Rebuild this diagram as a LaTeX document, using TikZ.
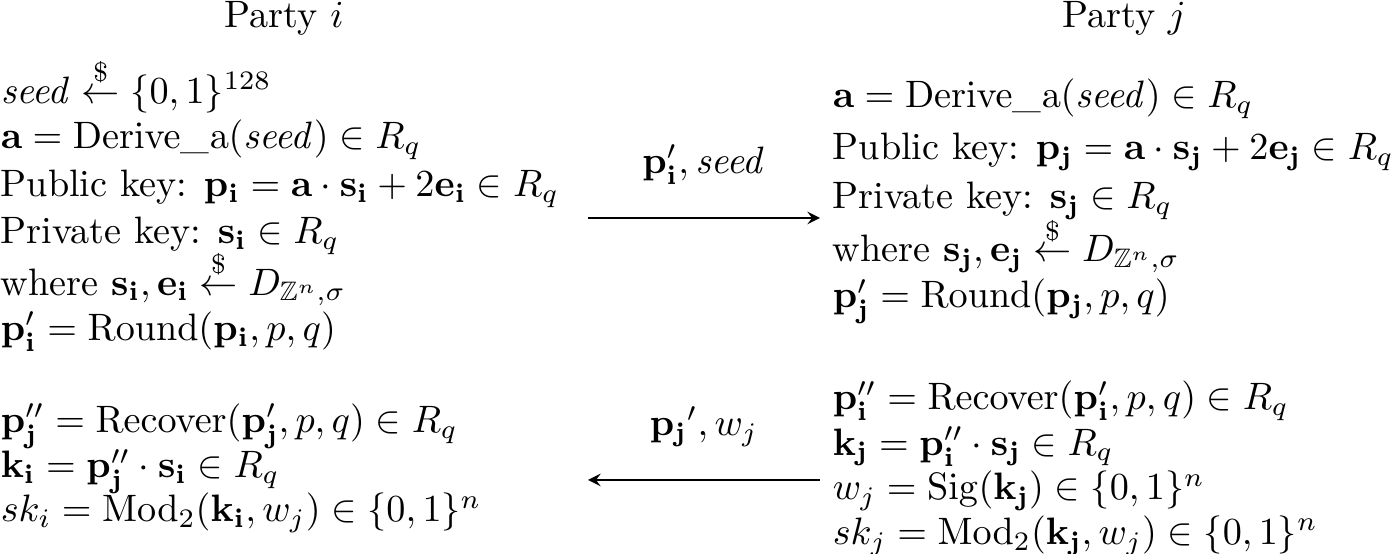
\documentclass[tikz,border=0pt]{standalone}
\usepackage{amsmath,amssymb}
\begin{document}
\begin{tikzpicture}[x=1pt,y=1pt,ln/.style={anchor=base west,inner sep=0pt,scale=0.955,transform shape},lbl/.style={anchor=base,inner sep=0pt,scale=0.955,transform shape}]
\useasboundingbox (0,0) rectangle (348,-138.5);
\node[lbl] (pi) at (71,-6.8) {Party $i$};
\node[lbl] (pj) at (281,-6.8) {Party $j$};
% left top
\node[ln] (l1) at (0,-25.8) {$\mathit{seed}\stackrel{\$}{\leftarrow}\{0,1\}^{128}$};
\node[ln] (l2) at (0,-37.2) {$\mathbf{a}=\mathrm{Derive\_a}(\mathit{seed})\in R_q$};
\node[ln] (l3) at (0,-49.2) {Public key: $\mathbf{p_i}=\mathbf{a}\cdot\mathbf{s_i}+2\mathbf{e_i}\in R_q$};
\node[ln] (l4) at (0,-61) {Private key: $\mathbf{s_i}\in R_q$};
\node[ln] (l5) at (0,-73.8) {where $\mathbf{s_i},\mathbf{e_i}\stackrel{\$}{\leftarrow}D_{\mathbb{Z}^n,\sigma}$};
\node[ln] (l6) at (0,-85.2) {$\mathbf{p_i'}=\mathrm{Round}(\mathbf{p_i},p,q)$};
% left bottom
\node[ln] (l7) at (0,-108.2) {$\mathbf{p_j''}=\mathrm{Recover}(\mathbf{p_j'},p,q)\in R_q$};
\node[ln] (l8) at (0,-119.5) {$\mathbf{k_i}=\mathbf{p_j''}\cdot\mathbf{s_i}\in R_q$};
\node[ln] (l9) at (0,-130.5) {$sk_i=\mathrm{Mod}_2(\mathbf{k_i},w_j)\in\{0,1\}^n$};
% right top
\node[ln] (r1) at (208,-27) {$\mathbf{a}=\mathrm{Derive\_a}(\mathit{seed})\in R_q$};
\node[ln] (r2) at (208,-40) {Public key: $\mathbf{p_j}=\mathbf{a}\cdot\mathbf{s_j}+2\mathbf{e_j}\in R_q$};
\node[ln] (r3) at (208,-52.2) {Private key: $\mathbf{s_j}\in R_q$};
\node[ln] (r4) at (208,-65.5) {where $\mathbf{s_j},\mathbf{e_j}\stackrel{\$}{\leftarrow}D_{\mathbb{Z}^n,\sigma}$};
\node[ln] (r5) at (208,-77) {$\mathbf{p_j'}=\mathrm{Round}(\mathbf{p_j},p,q)$};
% right bottom
\node[ln] (r6) at (208,-102.5) {$\mathbf{p_i''}=\mathrm{Recover}(\mathbf{p_i'},p,q)\in R_q$};
\node[ln] (r7) at (208,-113.8) {$\mathbf{k_j}=\mathbf{p_i''}\cdot\mathbf{s_j}\in R_q$};
\node[ln] (r8) at (208,-125) {$w_j=\mathrm{Sig}(\mathbf{k_j})\in\{0,1\}^n$};
\node[ln] (r9) at (208,-136.2) {$sk_j=\mathrm{Mod}_2(\mathbf{k_j},w_j)\in\{0,1\}^n$};
% arrows
\coordinate (a1) at (147,-54.5);
\coordinate (b1) at (205,-54.5);
\draw[->,>=stealth] (a1) -- (b1) node[midway,above=5pt,scale=0.955,transform shape] (m1) {$\mathbf{p_i'},\mathit{seed}$};
\coordinate (a2) at (205,-120);
\coordinate (b2) at (147,-120);
\draw[->,>=stealth] (a2) -- (b2) node[midway,above=5pt,scale=0.955,transform shape] (m2) {${\mathbf{p_j}}',w_j$};
\end{tikzpicture}
\end{document}
